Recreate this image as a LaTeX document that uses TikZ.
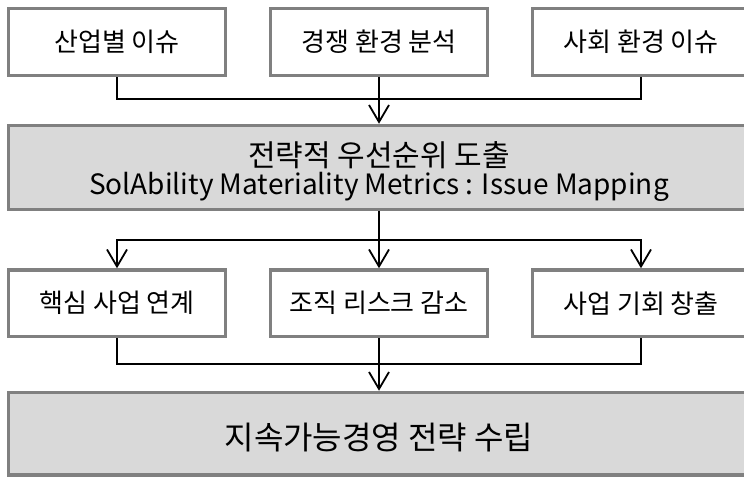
\documentclass[tikz,border=0pt]{standalone}
\usepackage{fontspec}
\setmainfont{Noto Sans CJK KR}
\usetikzlibrary{arrows.meta}
\definecolor{boxgray}{HTML}{808080}
\definecolor{fillgray}{HTML}{D9D9D9}
\begin{document}
\begin{tikzpicture}[x=1pt,y=-1pt,
  box/.style={draw=boxgray, line width=3.5pt, fill=white, inner sep=0pt,
    minimum width=217pt, minimum height=67pt, font=\fontsize{26}{30}\selectfont},
  wide/.style={box, fill=fillgray, minimum width=741pt},
  label/.style={inner sep=0pt},
  conn/.style={line width=1.8pt, black},
  arr/.style={conn, -{Straight Barb[length=17pt,width=20pt,line width=1.8pt]}}]
\clip (0,0) rectangle (744,477);
\fill[white] (0,0) rectangle (744,477);
% top row
\node[box] (t1) at (117,42) {산업별 이슈};
\node[box] (t2) at (379,42) {경쟁 환경 분석};
\node[box] (t3) at (641,42) {사회 환경 이슈};
% middle
\node[wide, minimum height=84pt] (m) at (379,167.5) {};
\node[label, font=\fontsize{30}{32}\selectfont] (m1) at (379,155) {전략적 우선순위 도출};
\node[label, font=\fontsize{28}{32}\selectfont] (m2) at (379,187) {SolAbility Materiality Metrics : Issue Mapping};
% second row
\node[box, minimum height=66.5pt] (s1) at (117,303.25) {핵심 사업 연계};
\node[box, minimum height=66.5pt] (s2) at (379,303.25) {조직 리스크 감소};
\node[box, minimum height=66.5pt] (s3) at (641,303.25) {사업 기회 창출};
% bottom
\node[wide, minimum height=82.5pt] (b) at (379,433.75) {};
\node[label, font=\fontsize{32}{36}\selectfont] (bt) at (379,437.5) {지속가능경영 전략 수립};
% junctions
\coordinate (j1) at (379,99);
\coordinate (j2) at (379,240);
\coordinate (j3) at (379,364);
% connectors top
\draw[conn] (t1.south) |- (j1) -| (t3.south);
\draw[arr] (t2.south) -- (m.north);
% middle to second row
\draw[conn] (m.south) -- (j2);
\draw[arr] (j2) -| (s1.north);
\draw[arr] (j2) -| (s3.north);
\draw[arr] (j2) -- (s2.north);
% second row to bottom
\draw[conn] (s1.south) |- (j3) -| (s3.south);
\draw[arr] (s2.south) -- (b.north);
\end{tikzpicture}
\end{document}
